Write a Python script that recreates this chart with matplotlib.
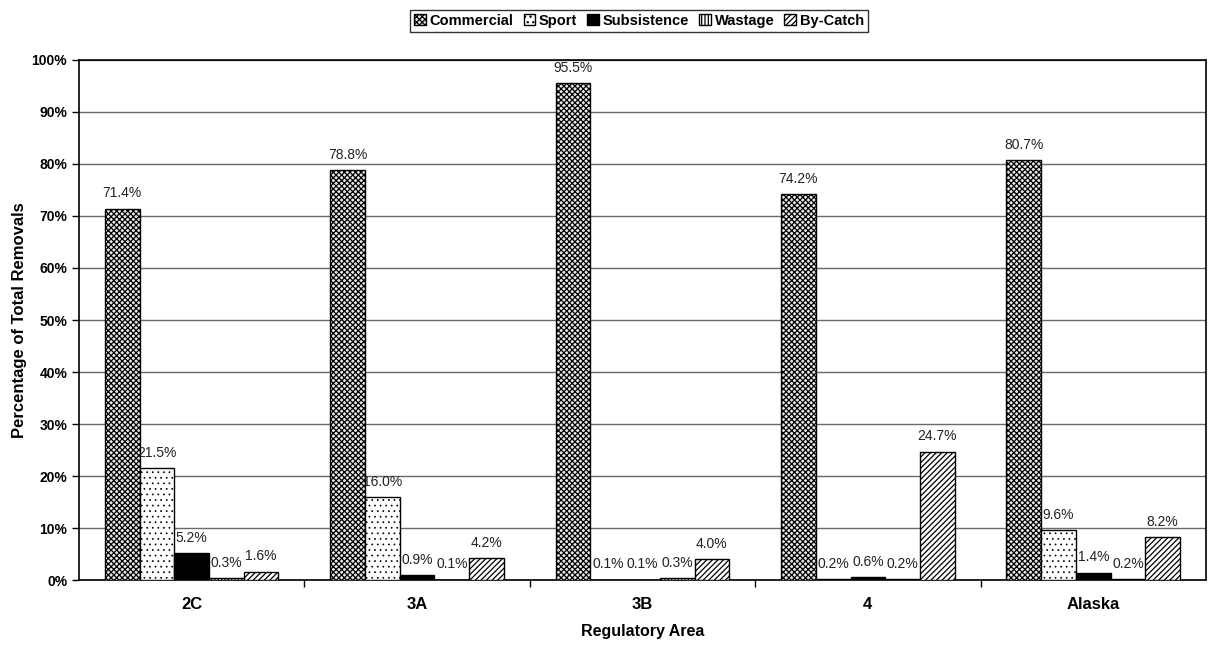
import matplotlib
matplotlib.use("Agg")
import matplotlib.pyplot as plt
import numpy as np

plt.rcParams['font.family'] = ['Liberation Sans', 'DejaVu Sans']
plt.rcParams['hatch.linewidth'] = 0.9

areas = ['2C', '3A', '3B', '4', 'Alaska']
series = ['Commercial', 'Sport', 'Subsistence', 'Wastage', 'By-Catch']

# percentage of total removals by area
commercial = [71.4, 78.8, 95.5, 74.2, 80.7]
sport = [21.5, 16.0, 0.1, 0.2, 9.6]
subsistence = [5.2, 0.9, 0.1, 0.6, 1.4]
wastage = [0.3, 0.1, 0.3, 0.2, 0.2]
bycatch = [1.6, 4.2, 4.0, 24.7, 8.2]

values = [commercial, sport, subsistence, wastage, bycatch]
fills = ['#e8e8e8', 'white', 'black', 'white', 'white']
hatches = ['xxxxxx', '...', None, '|||||', '//////']
hatch_lw = [0.9, 0.5, 0.9, 0.9, 0.9]

fig = plt.figure(figsize=(12.08, 6.54), dpi=100)
ax = fig.add_axes([0.0654, 0.1131, 0.9329, 0.7952])

x = np.arange(len(areas))
w = 0.154
handles = []
for i, (name, vals) in enumerate(zip(series, values)):
    pos = x + (i - 2) * w
    bars = ax.bar(pos, vals, w, color=fills[i], edgecolor='black',
                  hatch=hatches[i], linewidth=1.0, label=name, zorder=3)
    for b in bars:
        if hasattr(b, 'set_hatch_linewidth'):
            b.set_hatch_linewidth(hatch_lw[i])
    handles.append(bars)
    for p, v in zip(pos, vals):
        ax.text(p, v + 1.6, f'{v:.1f}%', ha='center', va='bottom',
                fontsize=10, color='#222222', zorder=4)

ax.set_xlim(-0.5, len(areas) - 0.5)
ax.set_ylim(0, 100)
ax.set_yticks(np.arange(0, 101, 10))
ax.set_yticklabels([f'{t}%' for t in range(0, 101, 10)], fontsize=10, fontweight='bold')
ax.yaxis.grid(True, color='#6a6a6a', linewidth=1.0, zorder=0)
ax.tick_params(axis='y', length=5, width=1)

ax.set_xticks(x)
ax.set_xticklabels(areas, fontsize=12, fontweight='bold')
ax.set_xticks(np.arange(0.5, len(areas) - 0.5, 1), minor=True)
ax.tick_params(axis='x', which='major', length=0, pad=12)
ax.tick_params(axis='x', which='minor', length=5, width=1)

for s in ax.spines.values():
    s.set_linewidth(1.2)

ax.set_xlabel('Regulatory Area', fontsize=11.5, fontweight='bold', labelpad=9)
ax.set_ylabel('Percentage of Total Removals', fontsize=12, fontweight='bold', labelpad=3)

leg = fig.legend(handles=handles, loc='center', bbox_to_anchor=(0.529, 0.968),
                 ncol=5, frameon=True, fancybox=False, edgecolor='black',
                 handlelength=0.8, handleheight=0.8, handletextpad=0.25,
                 columnspacing=0.7, borderpad=0.3,
                 prop={'weight': 'bold', 'size': 10.5})
leg.get_frame().set_linewidth(1.0)

fig.savefig('out.png', dpi=100)
